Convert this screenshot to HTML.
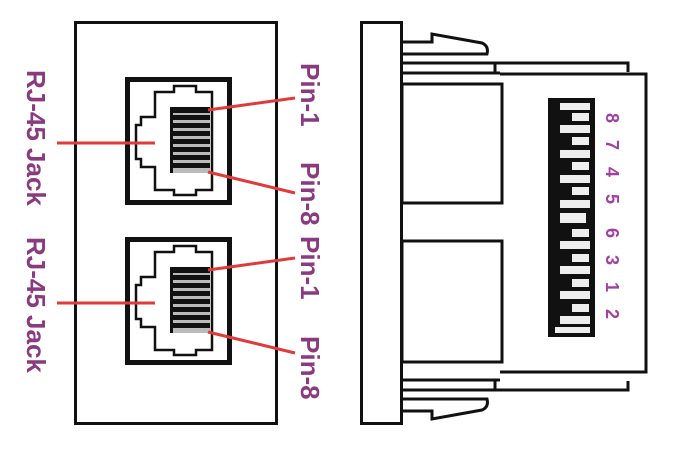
<!DOCTYPE html>
<html><head><style>html,body{margin:0;padding:0;background:#fff;}svg{display:block}</style></head>
<body>
<svg width="675" height="453" viewBox="0 0 675 453" xmlns="http://www.w3.org/2000/svg">
<rect width="675" height="453" fill="#fff"/>
<!-- left panel -->
<rect x="75.5" y="22.5" width="201" height="401" fill="none" stroke="#111" stroke-width="3"/>
<g id="jack">
<rect x="127.5" y="79.5" width="102" height="123" fill="none" stroke="#111" stroke-width="5"/>
<path d="M155 92 H174 V86 H196 V92 H212 V190 H196 V195 H174 V190 H155 V167 H141 V159 H136 V125 H141 V117 H155 Z" fill="none" stroke="#111" stroke-width="2.5"/>
<rect x="170" y="107" width="40" height="66" fill="#bbb"/>
<g fill="#111">
<rect x="170" y="107" width="40" height="6"/>
<rect x="170" y="115" width="40" height="5"/>
<rect x="170" y="123" width="40" height="5"/>
<rect x="170" y="131" width="40" height="5"/>
<rect x="170" y="139" width="40" height="5"/>
<rect x="170" y="147" width="40" height="5"/>
<rect x="170" y="155" width="40" height="5"/>
<rect x="170" y="163" width="40" height="5"/>
</g>
<rect x="170" y="107" width="3" height="66" fill="#111"/>
</g>
<use href="#jack" transform="translate(0,160)"/>
<g stroke="#e03a3a" stroke-width="3">
<line x1="57" y1="143" x2="155" y2="143"/>
<line x1="208" y1="110" x2="295" y2="98"/>
<line x1="208" y1="172" x2="295" y2="193"/>
<line x1="57" y1="303" x2="155" y2="303"/>
<line x1="208" y1="270" x2="295" y2="258"/>
<line x1="208" y1="332" x2="295" y2="353"/>
</g>
<g font-family="Liberation Sans, sans-serif" font-weight="bold" font-size="26" fill="#8a3a7e">
<text transform="translate(27,70) rotate(90)">RJ-45 Jack</text>
<text transform="translate(27,237) rotate(90)">RJ-45 Jack</text>
<text transform="translate(301,63) rotate(90)">Pin-1</text>
<text transform="translate(301,162) rotate(90)">Pin-8</text>
<text transform="translate(301,236) rotate(90)">Pin-1</text>
<text transform="translate(301,336) rotate(90)">Pin-8</text>
</g>
<!-- right panel -->
<rect x="361.5" y="22.5" width="40" height="401" fill="none" stroke="#111" stroke-width="3"/>
<g fill="none" stroke="#111" stroke-width="3">
<path d="M402 42 H432 V34 L482 43 Q489 46 487 54 H402"/>
<path d="M402 411 H432 V419 L482 410 Q489 407 487 399 H402"/>
<path d="M402 63 H628 V72"/>
<line x1="495" y1="63" x2="495" y2="72"/>
<path d="M402 390 H628 V381"/>
<line x1="495" y1="381" x2="495" y2="390"/>
<line x1="402" y1="73" x2="500" y2="73"/>
<line x1="402" y1="380" x2="500" y2="380"/>
<path d="M500 74 H646 V372 H500"/>
<rect x="402" y="84" width="100" height="119"/>
<rect x="402" y="241" width="100" height="121"/>
</g>
<rect x="548" y="98" width="47" height="239" fill="#111"/>
<g fill="#eee">
<rect x="560" y="103" width="30" height="7"/><rect x="572" y="113" width="17" height="8"/>
<rect x="560" y="125" width="30" height="8"/><rect x="572" y="137" width="17" height="8"/>
<rect x="560" y="150" width="30" height="8"/><rect x="572" y="162" width="17" height="8"/>
<rect x="560" y="175" width="30" height="8"/><rect x="572" y="187" width="17" height="8"/>
<rect x="560" y="200" width="30" height="8"/><rect x="560" y="213" width="26" height="10"/>
<rect x="572" y="229" width="17" height="8"/><rect x="560" y="241" width="30" height="8"/>
<rect x="572" y="254" width="17" height="8"/><rect x="560" y="266" width="30" height="8"/>
<rect x="572" y="279" width="17" height="8"/><rect x="560" y="291" width="30" height="8"/>
<rect x="572" y="304" width="17" height="8"/><rect x="560" y="316" width="30" height="8"/>
<rect x="555" y="327" width="35" height="6"/>
</g>
<g font-family="Liberation Sans, sans-serif" font-weight="bold" font-size="18" fill="#a040a0">
<text transform="translate(606,113) rotate(90)">8</text>
<text transform="translate(606,140) rotate(90)">7</text>
<text transform="translate(606,167) rotate(90)">4</text>
<text transform="translate(606,194) rotate(90)">5</text>
<text transform="translate(606,228) rotate(90)">6</text>
<text transform="translate(606,255) rotate(90)">3</text>
<text transform="translate(606,282) rotate(90)">1</text>
<text transform="translate(606,309) rotate(90)">2</text>
</g>
</svg>
</body></html>
